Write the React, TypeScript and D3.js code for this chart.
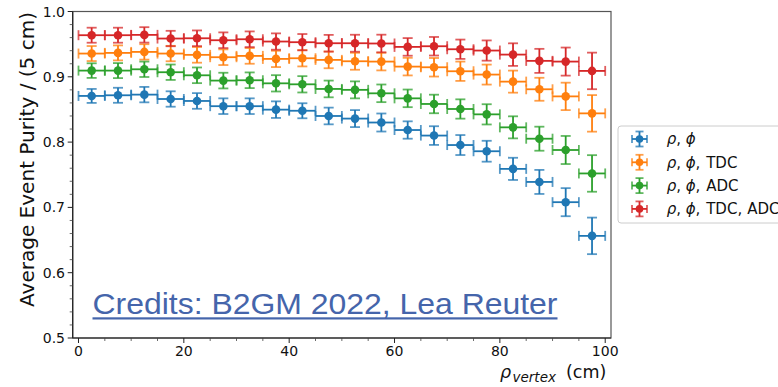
import React from "react";
import * as d3 from "d3";

const binCenters = [2.5, 7.5, 12.5, 17.5, 22.5, 27.5, 32.5, 37.5, 42.5, 47.5, 52.5, 57.5, 62.5, 67.5, 72.5, 77.5, 82.5, 87.5, 92.5, 97.5];
const binHalfWidth = 2.5;

const purityRhoPhi = [0.8707, 0.8717, 0.8727, 0.866, 0.863, 0.855, 0.855, 0.8497, 0.848, 0.84, 0.836, 0.83, 0.8185, 0.81, 0.7955, 0.786, 0.759, 0.739, 0.708, 0.6564];
const purityTDC = [0.9356, 0.9366, 0.9381, 0.9356, 0.9336, 0.93, 0.932, 0.9274, 0.9284, 0.9259, 0.9238, 0.9233, 0.9156, 0.9146, 0.9085, 0.9034, 0.8926, 0.8809, 0.87, 0.844];
const purityADC = [0.9095, 0.9095, 0.9115, 0.907, 0.9023, 0.8942, 0.8947, 0.89, 0.8885, 0.8814, 0.88, 0.8747, 0.867, 0.8584, 0.8507, 0.8425, 0.8226, 0.8052, 0.7879, 0.752];
const purityTDCADC = [0.9637, 0.9637, 0.9642, 0.9586, 0.959, 0.956, 0.9575, 0.954, 0.953, 0.9514, 0.9514, 0.951, 0.9458, 0.9468, 0.9422, 0.9402, 0.934, 0.9244, 0.9233, 0.909];

const errRhoPhi = [0.0107, 0.0115, 0.0118, 0.0118, 0.012, 0.012, 0.012, 0.0127, 0.0115, 0.0128, 0.013, 0.0138, 0.0133, 0.0143, 0.0153, 0.016, 0.017, 0.0184, 0.0215, 0.028];
const errTDC = [0.0115, 0.0115, 0.0118, 0.0118, 0.012, 0.012, 0.012, 0.0125, 0.0125, 0.0128, 0.013, 0.0135, 0.0135, 0.0142, 0.0148, 0.0153, 0.0169, 0.0176, 0.021, 0.028];
const errADC = [0.0112, 0.0115, 0.0118, 0.0118, 0.012, 0.012, 0.012, 0.0125, 0.0125, 0.0128, 0.013, 0.0135, 0.0135, 0.0142, 0.0148, 0.0155, 0.0169, 0.0184, 0.0215, 0.028];
const errTDCADC = [0.0115, 0.0115, 0.0118, 0.0118, 0.012, 0.012, 0.012, 0.0125, 0.0125, 0.0128, 0.013, 0.0135, 0.0135, 0.0142, 0.0148, 0.0155, 0.0173, 0.0184, 0.0215, 0.028];

const seriesLabels = ["ρ, ϕ", "ρ, ϕ, TDC", "ρ, ϕ, ADC", "ρ, ϕ, TDC, ADC"];
const seriesColors = ["#1f77b4", "#ff7f0e", "#2ca02c", "#d62728"];
const seriesValues = [purityRhoPhi, purityTDC, purityADC, purityTDCADC];
const seriesErrors = [errRhoPhi, errTDC, errADC, errTDCADC];

const xMajorTicks = [0, 20, 40, 60, 80, 100];
const yMajorTicks = [0.5, 0.6, 0.7, 0.8, 0.9, 1.0];

const yLabel = "Average Event Purity / (5 cm)";
const creditText = "Credits: B2GM 2022, Lea Reuter";

const W = 778;
const H = 387;
const plot = { left: 72.7, right: 611, top: 11.5, bottom: 338 };
const FONT = "'DejaVu Sans', sans-serif";

// legend token x-positions (relative offsets from text start)
const legendTokenX = [0, 19, 39.5, 80.5];

function LegendLabel({ label, x0 }: { label: string; x0: number }) {
  const parts = label.split(", ");
  return (
    <>
      {parts.map((p, i) => {
        const greek = p === "ρ" || p === "ϕ";
        const suffix = i < parts.length - 1 ? "," : "";
        return (
          <tspan key={i} x={x0 + legendTokenX[i]}>
            <tspan fontStyle={greek ? "italic" : "normal"}>{p}</tspan>
            {suffix}
          </tspan>
        );
      })}
    </>
  );
}

export default function App() {
  const x = d3.scaleLinear().domain([-1.1, 101.1]).range([plot.left, plot.right]);
  const y = d3.scaleLinear().domain([0.5, 1.0]).range([plot.bottom, plot.top]);

  const xMinor = d3.range(0, 101, 5).filter((v) => v % 20 !== 0);
  const yMinor = d3.range(0.5, 1.0001, 0.02).filter((v) => Math.abs(Math.round(v * 10) - v * 10) > 1e-6);

  const cap = 5;
  const lw = 1.8;

  const legendX = 618;
  const legendY = 126;
  const legendRow = 23.3;
  const legendTextX = 666.7;

  return (
    <svg
      width={W}
      height={H}
      style={{ position: "absolute", left: 0, top: 0, background: "#fff" }}
      fontFamily={FONT}
    >
      <rect x={0} y={0} width={W} height={H} fill="#fff" />

      {/* data */}
      {seriesValues.map((vals, si) => {
        const color = seriesColors[si];
        const errs = seriesErrors[si];
        return (
          <g key={si} stroke={color} strokeWidth={lw} fill="none">
            {vals.map((v, i) => {
              const cx = x(binCenters[i]);
              const cy = y(v);
              const x0 = x(binCenters[i] - binHalfWidth);
              const x1 = x(binCenters[i] + binHalfWidth);
              const y0 = y(v + errs[i]);
              const y1 = y(v - errs[i]);
              return (
                <g key={i}>
                  <line x1={x0} x2={x1} y1={cy} y2={cy} />
                  <line x1={cx} x2={cx} y1={y0} y2={y1} />
                  <g strokeOpacity={0.75}>
                    <line x1={cx - cap} x2={cx + cap} y1={y0} y2={y0} />
                    <line x1={cx - cap} x2={cx + cap} y1={y1} y2={y1} />
                    <line x1={x0} x2={x0} y1={cy - cap} y2={cy + cap} />
                    <line x1={x1} x2={x1} y1={cy - cap} y2={cy + cap} />
                  </g>
                  <circle cx={cx} cy={cy} r={4.3} fill={color} stroke="none" />
                </g>
              );
            })}
          </g>
        );
      })}

      {/* credits */}
      <text
        x={92.5}
        y={313.5}
        fontFamily="'Liberation Sans', Arial, sans-serif"
        fontSize={30}
        fill="#4565ab"
        textLength={465}
        lengthAdjust="spacingAndGlyphs"
      >
        {creditText}
      </text>
      <rect x={92.5} y={317.3} width={465} height={2.2} fill="#4565ab" />

      {/* frame */}
      <rect
        x={plot.left}
        y={plot.top}
        width={plot.right - plot.left}
        height={plot.bottom - plot.top}
        fill="none"
        stroke="#555"
        strokeWidth={1.2}
      />
      <line x1={plot.left} x2={plot.left} y1={plot.top} y2={plot.bottom} stroke="#222" strokeWidth={1.2} />
      <line x1={plot.left} x2={plot.right} y1={plot.bottom} y2={plot.bottom} stroke="#222" strokeWidth={1.2} />

      {/* x ticks */}
      {xMajorTicks.map((t) => (
        <g key={"xt" + t}>
          <line x1={x(t)} x2={x(t)} y1={plot.bottom} y2={plot.bottom + 5} stroke="#222" strokeWidth={1} />
          <text x={x(t)} y={356} fontSize={14} textAnchor="middle" fill="#111">
            {t}
          </text>
        </g>
      ))}
      {xMinor.map((t) => (
        <line key={"xm" + t} x1={x(t)} x2={x(t)} y1={plot.bottom} y2={plot.bottom + 3} stroke="#444" strokeWidth={0.8} />
      ))}

      {/* y ticks */}
      {yMajorTicks.map((t) => (
        <g key={"yt" + t}>
          <line x1={plot.left - 5} x2={plot.left} y1={y(t)} y2={y(t)} stroke="#222" strokeWidth={1} />
          <text x={65} y={y(t) + 5} fontSize={14} textAnchor="end" fill="#111">
            {t.toFixed(1)}
          </text>
        </g>
      ))}
      {yMinor.map((t, i) => (
        <line key={"ym" + i} x1={plot.left - 3} x2={plot.left} y1={y(t)} y2={y(t)} stroke="#444" strokeWidth={0.8} />
      ))}

      {/* axis labels */}
      <text
        transform={`translate(34,${(12 + 307) / 2}) rotate(-90)`}
        fontSize={19.5}
        textAnchor="middle"
        fill="#111"
        textLength={295}
        lengthAdjust="spacingAndGlyphs"
      >
        {yLabel}
      </text>
      <text x={500} y={378} fill="#111" fontSize={17.5}>
        <tspan fontStyle="italic">ρ</tspan>
        <tspan fontStyle="italic" fontSize={13.5} x={512.5} dy={3.5}>vertex</tspan>
        <tspan dy={-3.5} x={566}>(cm)</tspan>
      </text>

      {/* legend */}
      <rect x={legendX} y={legendY} width={180} height={97} rx={3} fill="#fff" stroke="#ccc" strokeWidth={1} />
      {seriesLabels.map((lab, i) => {
        const cy = legendY + 13 + i * legendRow;
        const cx = 639.5;
        const color = seriesColors[i];
        return (
          <g key={"lg" + i}>
            <g stroke={color} strokeWidth={lw}>
              <line x1={cx - 7.5} x2={cx + 7.5} y1={cy} y2={cy} />
              <line x1={cx} x2={cx} y1={cy - 7.5} y2={cy + 7.5} />
              <g strokeOpacity={0.75}>
                <line x1={cx - 4} x2={cx + 4} y1={cy - 7.5} y2={cy - 7.5} />
                <line x1={cx - 4} x2={cx + 4} y1={cy + 7.5} y2={cy + 7.5} />
                <line x1={cx - 7.5} x2={cx - 7.5} y1={cy - 4} y2={cy + 4} />
                <line x1={cx + 7.5} x2={cx + 7.5} y1={cy - 4} y2={cy + 4} />
              </g>
            </g>
            <circle cx={cx} cy={cy} r={3.8} fill={color} />
            <text y={cy + 5.3} fontSize={15} fill="#111">
              <LegendLabel label={lab} x0={legendTextX} />
            </text>
          </g>
        );
      })}
    </svg>
  );
}
